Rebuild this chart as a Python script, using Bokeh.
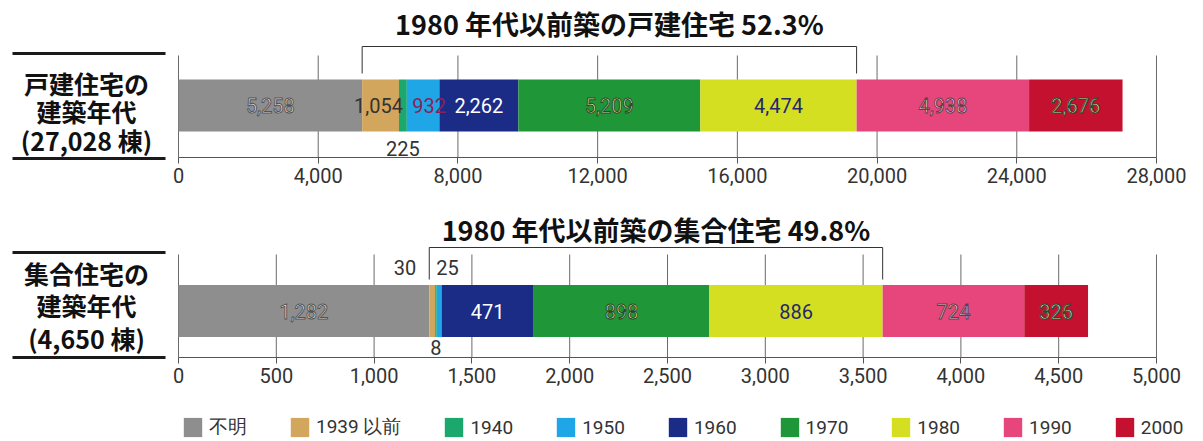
import numpy as np
from bokeh.plotting import figure
from bokeh.models import (Range1d, FixedTicker, NumeralTickFormatter, Legend,
                          LegendItem, ColumnDataSource)
from bokeh.layouts import column
from bokeh.embed import file_html
from bokeh.resources import INLINE
from bokeh.core.properties import value

# ---------------- data ----------------
categories = ["不明", "1939 以前", "1940", "1950", "1960", "1970", "1980", "1990", "2000"]
detached_values = [5258, 1054, 225, 932, 2262, 5209, 4474, 4938, 2676]
apartment_values = [1282, 30, 8, 25, 471, 898, 886, 724, 326]
detached_ticks = [0, 4000, 8000, 12000, 16000, 20000, 24000, 28000]
apartment_ticks = [0, 500, 1000, 1500, 2000, 2500, 3000, 3500, 4000, 4500, 5000]
detached_title = "1980 年代以前築の戸建住宅 52.3%"
apartment_title = "1980 年代以前築の集合住宅 49.8%"
detached_label = ["戸建住宅の", "建築年代", "(27,028 棟)"]
apartment_label = ["集合住宅の", "建築年代", "(4,650 棟)"]
bracket_first, bracket_last = "1939 以前", "1980"

# ---------------- style ----------------
colors = ["#8e8e8e", "#d2a65c", "#1aa86c", "#1ea6e6", "#1b2c86",
          "#1f9638", "#d5df22", "#e6467b", "#c4112f"]
label_fill = ["#f2f2f2", "#333333", "#333333", "#8b1f5b", "#ffffff",
              "#eef6dc", "#26286e", "#fbe4ee", "#fff4c0"]
label_outline = ["#555555", None, None, None, None,
                 "#2a4a20", None, "#6a3a4a", "#2a4a30"]

FONT_NUM = "Roboto"
FONT_CJK = "Noto Sans CJK JP"
FIG_W = 1200
ZERO_PX = 178         # x of value 0
SPAN_PX = 978         # px from value 0 to the last tick
BAR_PX = 52           # bar thickness


def make_chart(vals, ticks, title, lines, fig_h, axis_px, center_px, title_px,
               bracket_px, foot_px, grid_top_px, rule_px, rows_px, outside,
               label_shift):
    s = SPAN_PX / ticks[-1]

    def xd(px):               # figure px -> data x
        return (px - ZERO_PX) / s

    p = figure(width=FIG_W, height=fig_h, output_backend="svg",
               toolbar_location=None,
               x_range=Range1d(xd(0), xd(FIG_W)),
               y_range=Range1d(fig_h, 0),
               y_axis_location=None, min_border=0)
    p.outline_line_color = None
    p.xgrid.visible = False
    p.ygrid.visible = False
    p.background_fill_color = None
    p.border_fill_color = None

    # grid lines
    n = len(ticks)
    p.segment(x0=ticks, x1=ticks, y0=[axis_px] * n, y1=[grid_top_px] * n,
              line_color="#6a6a6a", line_width=1)

    # stacked bar
    keys = ["c%d" % i for i in range(len(categories))]
    src = ColumnDataSource({**{k: [v] for k, v in zip(keys, vals)}, "y": [center_px]})
    p.hbar_stack(keys, y="y", height=BAR_PX, color=colors, line_color=None, source=src)

    vals_a = np.array(vals, dtype=float)
    ends = np.cumsum(vals_a)
    starts = ends - vals_a
    mids = (starts + ends) / 2

    out_idx = {o[0] for o in outside}
    inside = [i for i in range(len(vals)) if i not in out_idx]
    lsrc = ColumnDataSource(dict(
        x=[mids[i] for i in inside], y=[center_px] * len(inside),
        xo=[label_shift.get(i, 0) for i in inside],
        t=["{:,}".format(vals[i]) for i in inside],
        fc=[label_fill[i] for i in inside],
        oc=[label_outline[i] for i in inside]))
    kw = dict(x="x", y="y", text="t", source=lsrc, text_align="center",
              x_offset="xo", text_baseline="middle", text_font=value(FONT_NUM),
              text_font_size="20px", text_color="fc")
    try:
        p.text(text_outline_color="oc", **kw)
    except Exception:
        p.text(**kw)

    for (i, ypos, xoff, align) in outside:
        p.text(x=[mids[i]], y=[ypos], text=["{:,}".format(vals[i])],
               text_align=align, text_baseline="middle", x_offset=xoff,
               text_font=value(FONT_NUM), text_font_size="20px",
               text_color="#333333")

    # bracket + headline
    b0 = starts[categories.index(bracket_first)]
    b1 = ends[categories.index(bracket_last)]
    p.line(x=[b0, b0, b1, b1], y=[foot_px, bracket_px, bracket_px, foot_px],
           line_color="#333333", line_width=1)
    p.text(x=[(b0 + b1) / 2], y=[title_px], text=[title], text_align="center",
           text_baseline="middle", text_font=value(FONT_CJK),
           text_font_style="bold", text_font_size="27px", text_color="#111111")

    # left caption block
    p.segment(x0=[xd(12), xd(12)], x1=[xd(165), xd(165)], y0=rule_px, y1=rule_px,
              line_color="#1a1a1a", line_width=3)
    p.text(x=[xd(86)] * len(lines), y=rows_px, text=lines, text_align="center",
           text_baseline="middle", text_font=value(FONT_CJK), text_font_style="bold",
           text_font_size="25px", text_color="#111111")

    # axis
    p.segment(x0=[0], x1=[ticks[-1]], y0=[axis_px], y1=[axis_px],
              line_color="#555555", line_width=1)
    ax = p.xaxis[0]
    ax.fixed_location = axis_px
    ax.ticker = FixedTicker(ticks=ticks)
    ax.formatter = NumeralTickFormatter(format="0,0")
    ax.axis_line_color = None
    ax.major_tick_line_color = "#555555"
    ax.major_tick_out = 6
    ax.major_tick_in = 0
    ax.minor_tick_line_color = None
    ax.major_label_standoff = 4
    ax.major_label_text_font = FONT_NUM
    ax.major_label_text_font_size = "20px"
    ax.major_label_text_color = "#333333"
    return p, src


top, _ = make_chart(detached_values, detached_ticks, detached_title, detached_label,
                    fig_h=195, axis_px=157, center_px=105, title_px=23,
                    bracket_px=46, foot_px=73, grid_top_px=55,
                    rule_px=[53, 158], rows_px=[82, 110, 139],
                    outside=[(2, 148, 0, "center")], label_shift={3: 6, 1: -2})
bot, bot_src = make_chart(apartment_values, apartment_ticks, apartment_title,
                          apartment_label, fig_h=215, axis_px=162,
                          center_px=115.5, title_px=34, bracket_px=52, foot_px=84,
                          grid_top_px=59, rule_px=[57, 162], rows_px=[77, 109.5, 142],
                          outside=[(1, 72, -16, "right"), (2, 152, 0, "center"),
                                   (3, 72, -3, "left")],
                          label_shift={})

# legend strip (uses hidden copies of the stacked bars as legend glyphs)
lg = figure(width=FIG_W, height=31, output_backend="svg", toolbar_location=None,
            x_range=Range1d(0, 1), y_range=Range1d(0, 1),
            x_axis_location=None, y_axis_location=None, min_border=0)
lg.outline_line_color = None
lg.xgrid.visible = False
lg.ygrid.visible = False
lg.background_fill_color = None
lg.border_fill_color = None
keys = ["c%d" % i for i in range(len(categories))]
lrends = lg.hbar_stack(keys, y="y", height=1, color=colors, line_color=None,
                       source=bot_src)
for r in lrends:
    r.visible = False
items = [LegendItem(label=c, renderers=[r]) for c, r in zip(categories, lrends)]
leg = Legend(items=items, orientation="horizontal", location=(181, 1),
             glyph_width=23, glyph_height=24, label_standoff=5, spacing=41,
             padding=0, margin=0, border_line_color=None,
             background_fill_alpha=0, inactive_fill_alpha=0,
             label_text_font=FONT_NUM, label_text_font_size="19px",
             label_text_color="#333333")
lg.add_layout(leg)

layout = column(top, bot, lg)

with open("out.html", "w") as f:
    f.write(file_html(layout, INLINE))
